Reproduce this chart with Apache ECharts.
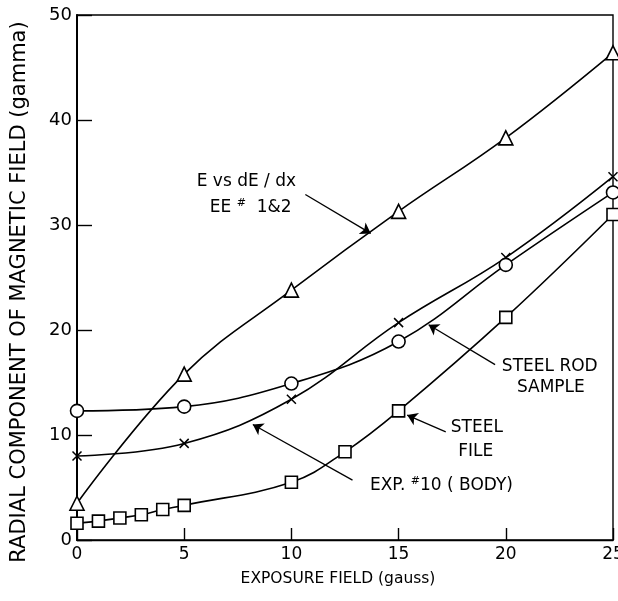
<!DOCTYPE html>
<html><head><meta charset="utf-8">
<script src="https://cdn.jsdelivr.net/npm/echarts@6/dist/echarts.min.js"></script>
<style>html,body{margin:0;padding:0;background:#fff;overflow:hidden}#c{width:618px;height:601px}</style>
</head><body><div id="c"></div>
<script>
// Data
const triangleX = [0, 5, 10, 15, 20, 25];
const triangleY = [3.5, 15.8, 23.8, 31.3, 38.3, 46.4];
const crossX = [0, 5, 10, 15, 20, 25];
const crossY = [8.0, 9.2, 13.4, 20.7, 26.9, 34.6];
const circleX = [0, 5, 10, 15, 20, 25];
const circleY = [12.3, 12.7, 14.9, 18.9, 26.2, 33.1];
const squareX = [0, 1, 2, 3, 4, 5, 10, 12.5, 15, 20, 25];
const squareY = [1.6, 1.8, 2.1, 2.4, 2.9, 3.3, 5.5, 8.4, 12.3, 21.2, 31.0];
const xTicks = [0, 5, 10, 15, 20, 25];
const yTicks = [0, 10, 20, 30, 40, 50];

// Annotation arrows (data coordinates: from -> to)
const arrows = [
  [[10.65, 32.9], [13.7, 29.2]],
  [[19.5, 16.7], [16.4, 20.5]],
  [[17.2, 10.3], [15.4, 11.9]],
  [[12.85, 5.7], [8.2, 11.0]]
];

const FONT = '"DejaVu Sans", "Open Sans", sans-serif';
const zip = (xs, ys) => xs.map((x, i) => [x, ys[i]]);
const crossPath = 'path://M0,0L10,10M10,0L0,10';

function mkSeries(name, data, symbol, size, extra) {
  return Object.assign({
    name, type: 'line', data, smooth: 0.4, symbol, symbolSize: size,
    showAllSymbol: true,
    lineStyle: { color: '#000', width: 1.6 },
    itemStyle: { color: '#fff', borderColor: '#000', borderWidth: 1.6 },
    emphasis: { disabled: true }, z: 3
  }, extra || {});
}

const chart = echarts.init(document.getElementById('c'), null, { renderer: 'canvas', width: 618, height: 601 });
const option = {
  animation: false,
  grid: { left: 77, right: 5, top: 15, bottom: 61, containLabel: false, outerBoundsMode: 'none',
          show: true, borderColor: '#000', borderWidth: 1.4, backgroundColor: 'transparent' },
  xAxis: {
    type: 'value', min: 0, max: 25, interval: 5,
    axisLine: { show: true, lineStyle: { color: '#000', width: 1.4 } },
    axisTick: { show: true, inside: true, length: 12, lineStyle: { color: '#000', width: 1.4 } },
    axisLabel: { fontFamily: FONT, fontSize: 17, color: '#000', margin: 6, formatter: v => xTicks.includes(v) ? String(v) : '' },
    splitLine: { show: false }
  },
  yAxis: {
    type: 'value', min: 0, max: 50, interval: 10,
    axisLine: { show: true, lineStyle: { color: '#000', width: 2 } },
    axisTick: { show: true, inside: true, length: 15, lineStyle: { color: '#000', width: 1.4 } },
    axisLabel: { fontFamily: FONT, fontSize: 18, color: '#000', margin: 5, formatter: v => yTicks.includes(v) ? String(v) : '' },
    splitLine: { show: false }
  },
  series: [
    mkSeries('E vs dE/dx', zip(triangleX, triangleY), 'triangle', 14, {
      markLine: {
        silent: true, symbol: ['none', 'arrow'], symbolSize: 10, animation: false,
        lineStyle: { color: '#000', width: 1.3, type: 'solid' }, label: { show: false },
        data: arrows.map(a => [{ coord: a[0] }, { coord: a[1] }])
      }
    }),
    mkSeries('Exp 10', zip(crossX, crossY), crossPath, 9, { itemStyle: { color: 'none', borderColor: '#000', borderWidth: 1.5 } }),
    mkSeries('Steel rod', zip(circleX, circleY), 'circle', 13),
    mkSeries('Steel file', zip(squareX, squareY), 'rect', 12)
  ]
};
chart.setOption(option);

// Text annotations placed in data coordinates
const labels = [
  { at: [7.9, 34.1], text: 'E vs dE / dx' },
  { at: [8.1, 31.7], text: 'EE {s|#}  1&2' },
  { at: [22.05, 16.5], text: 'STEEL ROD' },
  { at: [22.1, 14.5], text: 'SAMPLE' },
  { at: [18.65, 10.7], text: 'STEEL' },
  { at: [18.6, 8.4], text: 'FILE' },
  { at: [17.0, 5.2], text: 'EXP. {s|#}10 ( BODY)' }
];
const graphics = labels.map(l => {
  const p = chart.convertToPixel({ gridIndex: 0 }, l.at);
  return {
    type: 'text', x: p[0], y: p[1], z: 10,
    style: {
      text: l.text, fontFamily: FONT, fontSize: 17, fill: '#000', align: 'center', verticalAlign: 'middle',
      rich: { s: { fontSize: 11, verticalAlign: 'top', padding: [0, 0, 9, 0], fontFamily: FONT } }
    }
  };
});
// Axis titles
graphics.push({
  type: 'text', x: 338, y: 579, z: 10,
  style: { text: 'EXPOSURE FIELD (gauss)', fontFamily: FONT, fontSize: 15.5, fill: '#000', align: 'center', verticalAlign: 'middle' }
});
graphics.push({
  type: 'text', x: 20, y: 292, rotation: Math.PI / 2, z: 10,
  style: { text: 'RADIAL COMPONENT OF MAGNETIC FIELD (gamma)', fontFamily: FONT, fontSize: 21, fill: '#000', align: 'center', verticalAlign: 'middle' }
});
chart.setOption({ graphic: graphics });
</script></body></html>
